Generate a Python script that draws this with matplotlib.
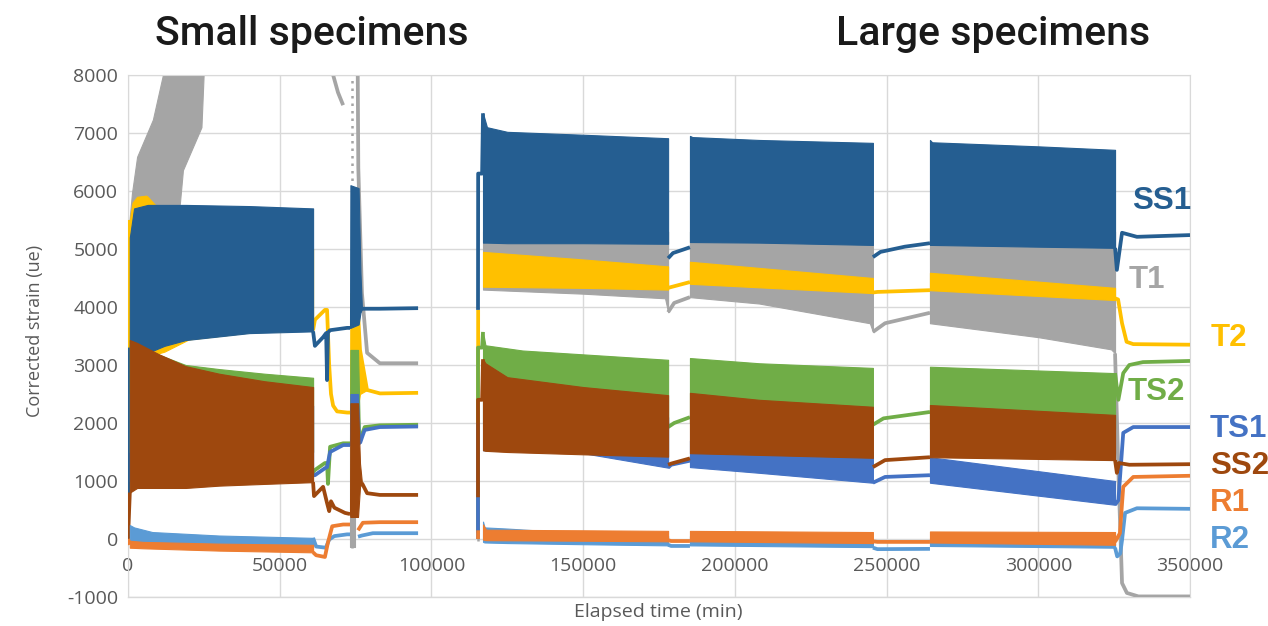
import numpy as np
import matplotlib.pyplot as plt
from matplotlib import font_manager

# ------------------------------------------------------------------
# Strain records (time in min, corrected strain in microstrain).
# Cyclic-loading phases are stored as envelopes (t, upper, lower);
# rest phases are stored as single traces (t, value).
# ------------------------------------------------------------------

# ---------- SS1 ----------
ss1_bands = [
    ([600, 2000, 6500, 12000, 19000, 40000, 61000],
     [5200, 5700, 5760, 5760, 5760, 5740, 5700],
     [3300, 3280, 3210, 3330, 3430, 3550, 3580]),
    ([73170, 73300, 76000, 76600, 77100],
     [3640, 6100, 6050, 4600, 3970],
     [3640, 3640, 3700, 3900, 3970]),
    ([117000, 118300, 125000, 150000, 178000],
     [7340, 7100, 7020, 6970, 6910],
     [5110, 5110, 5100, 5100, 5090]),
    ([185200, 186000, 208000, 245500],
     [6950, 6930, 6880, 6830],
     [5120, 5120, 5110, 5070]),
    ([264300, 265000, 300000, 325300],
     [6880, 6840, 6770, 6710],
     [5070, 5070, 5040, 5020]),
]
ss1_lines = [
    ([0, 600], [0, 3300]),
    ([61000, 61600, 64300, 65300, 65600, 65900, 66600, 72200, 73170],
     [3580, 3330, 3480, 3550, 2740, 3560, 3600, 3640, 3640]),
    ([77100, 83000, 95600], [3970, 3970, 3980]),
    ([115350, 115400, 116700, 117000], [3950, 6300, 6300, 7340]),
    ([178000, 179600, 183000, 185200], [4840, 4930, 4990, 5030]),
    ([245500, 248000, 256000, 264300], [4860, 4950, 5040, 5100]),
    ([325300, 325900, 327600, 332500, 350000], [5020, 4640, 5280, 5210, 5240]),
]

# ---------- T1 ----------
t1_bands = [
    ([500, 1300, 3000, 8200, 11500, 17100, 18100, 24200, 25000, 30000, 61000],
     [5500, 5960, 6590, 7230, 8000, 9200, 9400, 10300, 10400, 11000, 12000],
     [3500, 3800, 4000, 4000, 4000, 5790, 6360, 7100, 8100, 9000, 11000]),
    ([73170, 74900], [2000, 2000], [-140, -140]),
    ([117000, 150000, 177000, 178000],
     [5300, 5300, 5300, 5300],
     [4300, 4230, 4150, 3910]),
    ([185200, 208000, 244500, 245500],
     [5300, 5300, 5300, 5300],
     [4170, 4060, 3720, 3570]),
    ([264300, 300000, 324000, 325300],
     [5300, 5300, 5300, 5300],
     [3720, 3480, 3270, 3200]),
]
t1_lines = [
    ([61000, 67600, 69200, 70900], [12000, 8000, 7700, 7480]),
    ([75600, 75900, 77100, 78800, 83000, 95600], [9000, 6400, 4240, 3210, 3030, 3030]),
    ([178000, 180000, 185200], [3910, 4070, 4170]),
    ([245500, 249500, 264300], [3570, 3720, 3900]),
    ([325300, 326500, 327600, 329200, 333000, 350000], [3200, 1000, -760, -930, -990, -990]),
]
t1_dotted = [
    ([73820, 73820], [-150, 8000]),
    ([115350, 115350], [-30, 4000]),
]

# ---------- T2 ----------
t2_bands = [
    ([600, 1500, 3000, 6000, 6500, 10000, 12000, 20000, 40000, 61000],
     [5500, 5800, 5900, 5920, 5900, 5700, 5600, 5400, 5200, 5000],
     [3300, 3290, 3250, 3200, 3180, 3200, 3230, 3440, 3560, 3600]),
    ([73170, 73300, 75470, 76460, 78770],
     [2180, 4240, 4240, 3260, 2570],
     [2180, 2180, 2200, 2500, 2570]),
    ([117000, 150000, 178000], [4950, 4820, 4700], [4350, 4330, 4300]),
    ([185200, 245500], [4780, 4500], [4400, 4240]),
    ([264300, 325300], [4590, 4330], [4290, 4120]),
]
t2_lines = [
    ([0, 600], [0, 5500]),
    ([61000, 61600, 64900, 65600, 66300, 66900, 67600, 68900, 72200, 73170],
     [3600, 3780, 3950, 3950, 3000, 2500, 2300, 2200, 2180, 2180]),
    ([75470, 76460, 78770, 83050, 95600], [4240, 3260, 2570, 2510, 2520]),
    ([115350, 115400], [0, 3950]),
    ([178000, 185200], [4330, 4430]),
    ([245500, 247000, 264300], [4250, 4260, 4290]),
    ([325300, 326300, 327600, 329100, 331300, 350000], [4150, 4130, 3720, 3400, 3360, 3350]),
]

# ---------- TS2 ----------
ts2_bands = [
    ([600, 10000, 19000, 30000, 45000, 61000],
     [3350, 3180, 3000, 2930, 2850, 2780],
     [1500, 1500, 1500, 1500, 1500, 1500]),
    ([73170, 73300, 75800, 76460], [1650, 3260, 3260, 1700], [1650, 1650, 1650, 1700]),
    ([117000, 117800, 130000, 178000], [3570, 3340, 3250, 3090], [2000, 2000, 2000, 2000]),
    ([185200, 208000, 245500], [3120, 3030, 2950], [2000, 2000, 2000]),
    ([264300, 325300], [2970, 2860], [1900, 1900]),
]
ts2_lines = [
    ([61000, 61600, 64900, 65600, 65900, 66600, 70900, 72200, 73170],
     [1150, 1190, 1310, 1310, 950, 1590, 1650, 1650, 1650]),
    ([76460, 77100, 78000, 83000, 95600], [1700, 1800, 1930, 1960, 1970]),
    ([115350, 115350, 116700, 117000], [0, 3300, 3300, 3570]),
    ([178000, 180000, 185200], [1930, 2000, 2100]),
    ([245500, 249000, 264300], [1970, 2080, 2190]),
    ([325300, 326400, 328000, 330000, 334500, 350000], [2860, 2400, 2860, 3000, 3050, 3070]),
]

# ---------- TS1 ----------
ts1_bands = [
    ([600, 61000], [2500, 2300], [1000, 1100]),
    ([73170, 73300, 75800, 76460], [1620, 2500, 2500, 1650], [1620, 1620, 1620, 1650]),
    ([117000, 150000, 178000], [2500, 2300, 2100], [1530, 1480, 1230]),
    ([185200, 208300, 245500], [1700, 1600, 1500], [1240, 1140, 970]),
    ([264300, 325300], [1410, 1000], [970, 590]),
]
ts1_lines = [
    ([61000, 61600, 64900, 65600, 66600, 70900, 72200, 73170],
     [1100, 1100, 1220, 1240, 1500, 1620, 1620, 1620]),
    ([76460, 77100, 78000, 83000, 95600], [1650, 1750, 1880, 1930, 1940]),
    ([115350, 115350], [0, 2000]),
    ([178000, 179000, 185200], [1230, 1280, 1350]),
    ([245500, 249500, 264300], [970, 1070, 1100]),
    ([325300, 326400, 328000, 331300, 350000], [590, 670, 1830, 1930, 1930]),
]

# ---------- SS2 ----------
ss2_bands = [
    ([600, 3000, 10000, 19000, 30000, 45000, 61000],
     [3430, 3380, 3190, 2980, 2850, 2720, 2620],
     [800, 880, 880, 880, 920, 950, 980]),
    ([73170, 73300, 75800, 76460, 77100],
     [430, 2340, 2340, 1300, 965],
     [430, 380, 380, 900, 965]),
    ([117000, 117800, 125000, 150000, 178000],
     [3100, 3030, 2790, 2620, 2480],
     [1530, 1520, 1500, 1460, 1420]),
    ([185200, 208000, 245500], [2520, 2400, 2280], [1480, 1450, 1400]),
    ([264300, 325300], [2310, 2140], [1410, 1360]),
]
ss2_lines = [
    ([0, 600], [0, 800]),
    ([61000, 61300, 64300, 65600, 66300, 66900, 68000, 71500, 73170],
     [980, 740, 900, 620, 480, 650, 540, 450, 430]),
    ([77100, 78800, 83000, 95600], [965, 790, 760, 760]),
    ([115350, 115350, 116700, 117000], [720, 2400, 2400, 3100]),
    ([178000, 179000, 185200], [1280, 1300, 1390]),
    ([245500, 249500, 264300], [1240, 1360, 1410]),
    ([325300, 325900, 326600, 330000, 350000], [1360, 1140, 1310, 1280, 1290]),
]

# ---------- R2 ----------
r2_bands = [
    ([600, 2000, 8000, 30000, 61000], [240, 200, 120, 60, 20], [-40, -50, -60, -80, -100]),
    ([117000, 117500, 125000, 150000, 178000], [300, 200, 180, 100, 50], [-50, -60, -70, -90, -110]),
    ([185200, 245500], [50, 0], [-110, -140]),
    ([264300, 325300], [0, -20], [-120, -150]),
]
r2_lines = [
    ([61000, 62000, 65200, 66300, 68000, 72200, 73170],
     [20, -130, -150, -10, 50, 80, 80]),
    ([75800, 77100, 80700, 95600], [40, 60, 100, 100]),
    ([115350, 115400], [0, 100]),
    ([178000, 179000, 185200], [-100, -120, -120]),
    ([245500, 247000, 264300], [-150, -175, -170]),
    ([325300, 326000, 327000, 327600, 328600, 332500, 350000], [-150, -300, -250, -20, 450, 530, 520]),
]

# ---------- R1 ----------
r1_bands = [
    ([600, 5000, 30000, 61000], [-30, -50, -80, -100], [-150, -160, -200, -230]),
    ([117000, 118000, 150000, 178000], [250, 160, 150, 140], [-10, -20, -30, -40]),
    ([185200, 245500], [140, 120], [-40, -70]),
    ([264300, 325300], [130, 120], [-60, -100]),
]
r1_lines = [
    ([0, 600], [0, -100]),
    ([61000, 62000, 64900, 65900, 67300, 70900, 73170],
     [-230, -280, -310, -60, 220, 250, 250]),
    ([75800, 77400, 83000, 95600], [150, 280, 290, 290]),
    ([115350, 115400], [0, 150]),
    ([178000, 179000, 185200], [-20, -35, -35]),
    ([245500, 247000, 264300], [-40, -50, -50]),
    ([325300, 326900, 328000, 331300, 350000], [-50, 100, 900, 1070, 1090]),
]

series_names = ["SS1", "T1", "T2", "TS2", "TS1", "SS2", "R1", "R2"]
series_colors = {
    "SS1": "#255E91", "T1": "#A5A5A5", "T2": "#FFC000", "TS2": "#70AD47",
    "TS1": "#4472C4", "SS2": "#9E480E", "R1": "#ED7D31", "R2": "#5B9BD5",
}
# drawing order (later series sit on top)
series_data = [
    ("T1", t1_bands, t1_lines),
    ("T2", t2_bands, t2_lines),
    ("SS1", ss1_bands, ss1_lines),
    ("TS2", ts2_bands, ts2_lines),
    ("TS1", ts1_bands, ts1_lines),
    ("SS2", ss2_bands, ss2_lines),
    ("R2", r2_bands, r2_lines),
    ("R1", r1_bands, r1_lines),
]
end_label_y = {"SS1": 5830, "T1": 4470, "T2": 3460, "TS2": 2540,
               "TS1": 1900, "SS2": 1250, "R1": 620, "R2": -10}
end_label_x = {"SS1": 1132, "T1": 1129, "T2": 1211, "TS2": 1128,
               "TS1": 1210, "SS2": 1210, "R1": 1210, "R2": 1210}

x_ticks = np.arange(0, 350001, 50000)
y_ticks = np.arange(-1000, 8001, 1000)


def pick_font(candidates):
    names = {f.name for f in font_manager.fontManager.ttflist}
    for c in candidates:
        if c in names:
            return c
    return "DejaVu Sans"


title_font = pick_font(["Roboto", "Liberation Sans Narrow"])
body = pick_font(["Open Sans", "Lato", "Liberation Sans"])
bold_font = pick_font(["Liberation Sans", "Arial"])

W, H = 1268, 626
fig = plt.figure(figsize=(W / 100, H / 100), dpi=100)
ax = fig.add_axes([128 / W, 1 - 597 / H, (1190 - 128) / W, (597 - 75) / H])

ax.set_xlim(0, 350000)
ax.set_ylim(-1000, 8000)
ax.set_xticks(x_ticks)
ax.set_yticks(y_ticks)
ax.set_xticklabels([str(v) for v in x_ticks])
ax.set_yticklabels([str(v) for v in y_ticks])
grid_c = "#D9D9D9"
ax.grid(True, color=grid_c, lw=1.0, zorder=0)
ax.set_axisbelow(True)
for side in ("top", "right", "left"):
    ax.spines[side].set_color(grid_c)
ax.spines["bottom"].set_position(("data", 0))
ax.spines["bottom"].set_visible(False)
ax.tick_params(axis="both", length=0, labelsize=14, labelcolor="#595959")
ax.tick_params(axis="x", pad=13)
ax.tick_params(axis="y", pad=7)
for lab in ax.get_xticklabels() + ax.get_yticklabels():
    lab.set_fontfamily(body)
# bottom frame line at -1000
ax.axhline(-1000, color=grid_c, lw=1.0, zorder=0, clip_on=False)

for z, (name, bands, lines) in enumerate(series_data, start=2):
    col = series_colors[name]
    for t, hi, lo in bands:
        ax.fill_between(t, lo, hi, facecolor=col, edgecolor=col, lw=0.8, zorder=z)
    for t, v in lines:
        ax.plot(t, v, color=col, lw=2.7, zorder=z, solid_joinstyle="round",
                solid_capstyle="butt")
    if name == "T1":
        for t, v in t1_dotted:
            ax.plot(t, v, color=col, lw=1.8, ls=(0, (1, 2)), zorder=z)

# series labels at the right end
for name in series_names:
    py = 539 - end_label_y[name] / 1000 * 58
    fig.text(end_label_x[name] / W, 1 - py / H, name, color=series_colors[name],
             fontsize=22.5, fontweight="bold", family=bold_font,
             ha="left", va="center")

fig.text(312 / W, 1 - 34 / H, "Small specimens", fontsize=29.5, fontweight="medium",
         family=title_font, color="#1A1A1A", ha="center", va="center")
fig.text(993 / W, 1 - 34 / H, "Large specimens", fontsize=29.5, fontweight="medium",
         family=title_font, color="#1A1A1A", ha="center", va="center")
fig.text(35 / W, 1 - 331 / H, "Corrected strain (ue)", rotation=90, fontsize=13,
         family=body, color="#595959", ha="center", va="center")
fig.text(658 / W, 1 - 612 / H, "Elapsed time (min)", fontsize=14,
         family=body, color="#595959", ha="center", va="center")

fig.savefig("out.png", dpi=100)
